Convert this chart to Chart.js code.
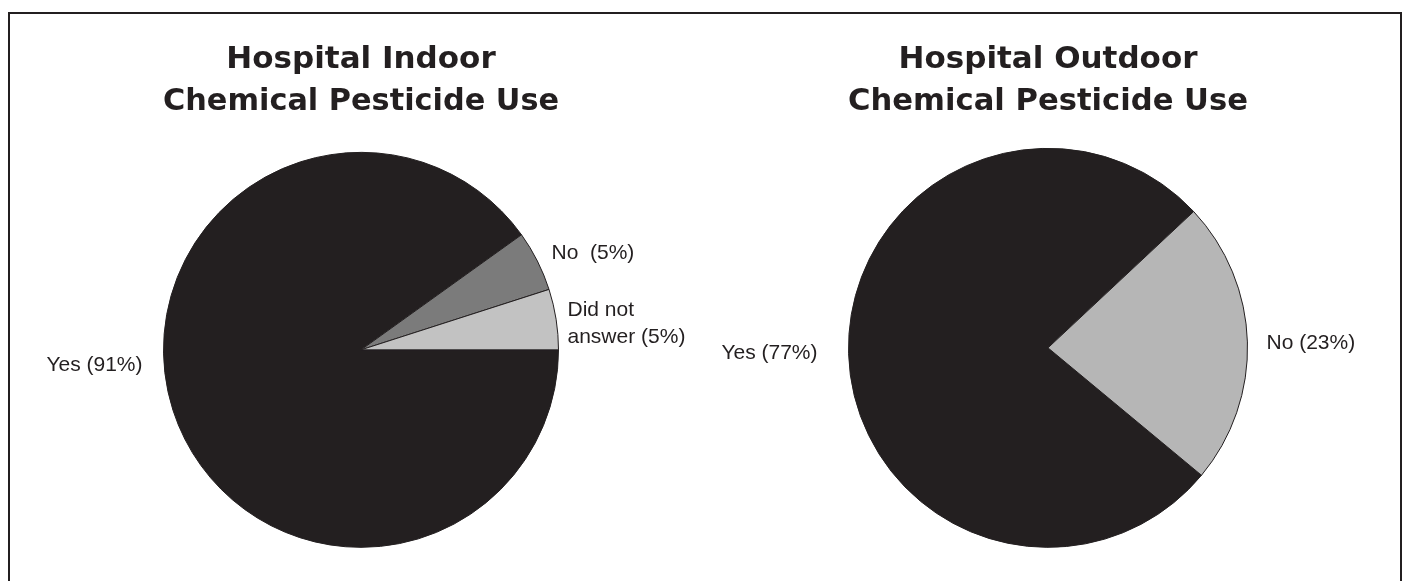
<!DOCTYPE html>
<html>
<head>
<meta charset="utf-8">
<title>Hospital Chemical Pesticide Use</title>
<script src="https://cdn.jsdelivr.net/npm/chart.js@4.4.1/dist/chart.umd.min.js"></script>
<style>
	html, body { margin: 0; padding: 0; background: #fff; }
	body { width: 1406px; height: 581px; position: relative; overflow: hidden; }
	.frame {
		position: absolute; left: 8px; top: 12px; width: 1390px; height: 600px;
		border: 2px solid #231f20; border-bottom: none;
	}
	.box { position: absolute; top: 0; width: 703px; height: 581px; }
	#boxIndoor { left: 0; }
	#boxOutdoor { left: 703px; }
</style>
</head>
<body>
<div class="frame"></div>
<div class="box" id="boxIndoor"><canvas id="indoorChart" width="703" height="581"></canvas></div>
<div class="box" id="boxOutdoor"><canvas id="outdoorChart" width="703" height="581"></canvas></div>

<script>
// data
const indoorCategories = ['Yes', 'No', 'Did not answer'];
const indoorValues = [91, 5, 5];
const indoorLabels = [['Yes (91%)'], ['No  (5%)'], ['Did not', 'answer (5%)']];

const outdoorCategories = ['Yes', 'No'];
const outdoorValues = [77, 23];
const outdoorLabels = [['Yes (77%)'], ['No (23%)']];

const ink = '#231f20';

// draws the slice labels next to the pie, placed from the arc's centre and radius
const sliceLabels = {
	id: 'sliceLabels',
	afterDatasetsDraw(chart, args, opts) {
		const ctx = chart.ctx;
		const meta = chart.getDatasetMeta(0);
		ctx.save();
		ctx.fillStyle = ink;
		ctx.font = '21px "Liberation Sans", Arial, sans-serif';
		ctx.textBaseline = 'middle';
		meta.data.forEach((arc, i) => {
			const p = opts.place[i];
			const lines = opts.text[i];
			const r = arc.outerRadius;
			const x = arc.x + p.side * (r + p.gap);
			ctx.textAlign = p.side < 0 ? 'right' : 'left';
			lines.forEach((line, j) => {
				ctx.fillText(line, x, arc.y + p.dy + j * 27);
			});
		});
		ctx.restore();
	}
};

function makePie(canvasId, titleLines, cats, values, colors, rotation, labelText, place, pad, titleBottom) {
	return new Chart(document.getElementById(canvasId), {
		type: 'pie',
		data: {
			labels: cats,
			datasets: [{
				data: values,
				backgroundColor: colors,
				borderColor: ink,
				borderWidth: 1
			}]
		},
		options: {
			responsive: false,
			animation: false,
			rotation: rotation,
			layout: { padding: pad },
			plugins: {
				legend: { display: false },
				tooltip: { enabled: false },
				title: {
					display: true,
					text: titleLines,
					color: ink,
					font: { family: '"DejaVu Sans", sans-serif', size: 31, weight: 'bold', lineHeight: 1.35 },
					padding: { top: 39, bottom: titleBottom }
				},
				sliceLabels: { text: labelText, place: place }
			}
		},
		plugins: [sliceLabels]
	});
}

makePie('indoorChart',
	['Hospital Indoor', 'Chemical Pesticide Use'],
	indoorCategories, indoorValues,
	[ink, '#7b7b7b', '#c2c2c2'],
	90,
	indoorLabels,
	[
		{ side: -1, gap: 21, dy: 15 },
		{ side: 1, gap: -7, dy: -97 },
		{ side: 1, gap: 9, dy: -40 }
	],
	{ left: 163, right: 144, top: 0, bottom: 33 },
	29
);

makePie('outdoorChart',
	['Hospital Outdoor', 'Chemical Pesticide Use'],
	outdoorCategories, outdoorValues,
	[ink, '#b6b6b6'],
	129.7,
	outdoorLabels,
	[
		{ side: -1, gap: 31, dy: 5 },
		{ side: 1, gap: 19, dy: -5 }
	],
	{ left: 145, right: 158, top: 0, bottom: 33 },
	25
);
</script>
</body>
</html>
